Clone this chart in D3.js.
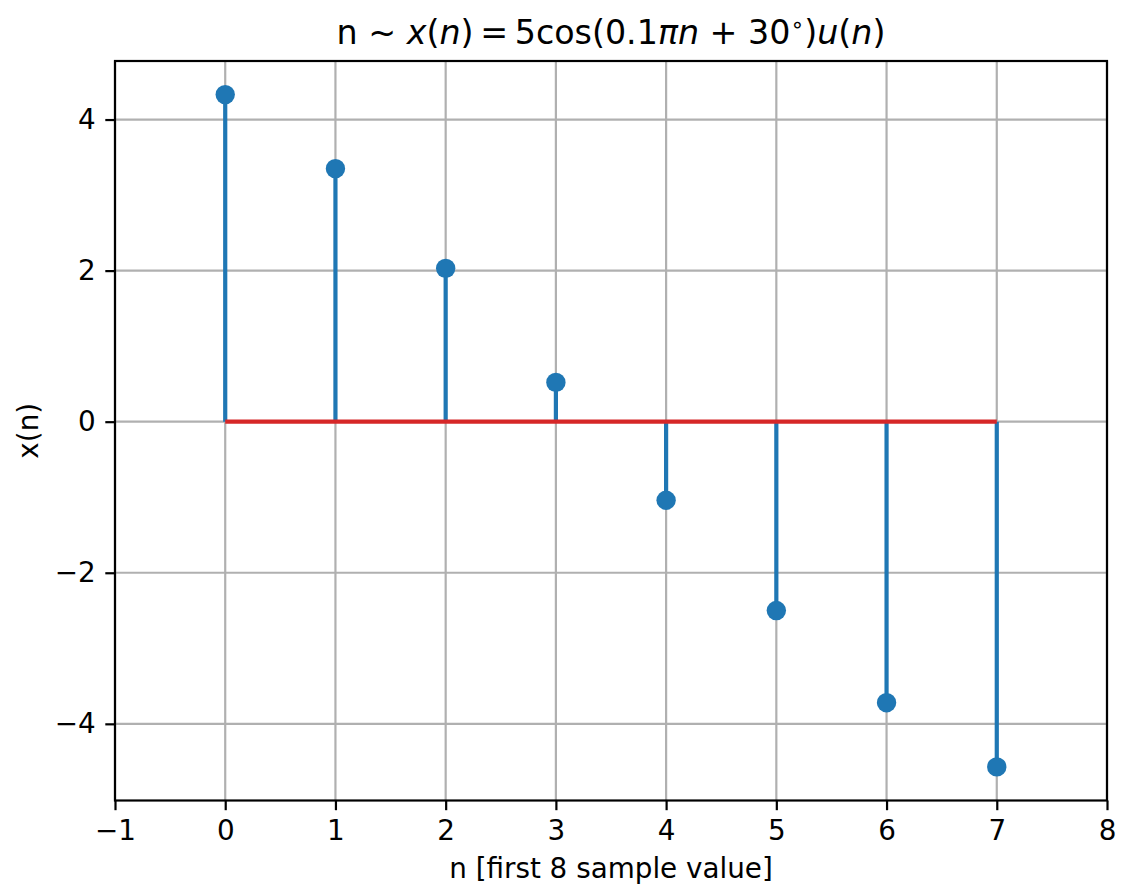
<!DOCTYPE html>
<html>
<head>
<meta charset="utf-8">
<script src="https://cdn.jsdelivr.net/npm/d3@7"></script>
<style>
    body { margin: 0; background: #fff; }
    svg { font-family: "DejaVu Sans", sans-serif; }
</style>
</head>
<body>
<svg id="chart" width="1122" height="887"></svg>
<script>
const samples = [0, 1, 2, 3, 4, 5, 6, 7]
const values = [4.33, 3.35, 2.03, 0.52, -1.04, -2.50, -3.72, -4.57]
const xTicks = [-1, 0, 1, 2, 3, 4, 5, 6, 7, 8]
const yTicks = [-4, -2, 0, 2, 4]

const svg = d3.select("#chart")

const box = {left: 115, right: 1107, top: 61, bottom: 800.5}
const tickLen = 9.7

//matplotlib style 5% margins around the data
const lo = d3.min(values), hi = d3.max(values)
const pad = (hi - lo) * 0.05

const x = d3.scaleLinear().domain([-1, 8]).range([box.left, box.right])
const y = d3.scaleLinear().domain([lo - pad, hi + pad]).range([box.bottom, box.top])

const fmt = d => d < 0 ? "\u2212" + Math.abs(d) : String(d)

// grid first, under everything
const grid = svg.append("g")
grid.selectAll(".gx").data(xTicks).join("line")
    .attr("x1", d => x(d)).attr("x2", d => x(d))
    .attr("y1", box.top).attr("y2", box.bottom)
    .attr("stroke", "#b0b0b0").attr("stroke-width", 2.2)
grid.selectAll(".gy").data(yTicks).join("line")
    .attr("x1", box.left).attr("x2", box.right)
    .attr("y1", d => y(d)).attr("y2", d => y(d))
    .attr("stroke", "#b0b0b0").attr("stroke-width", 2.2)

// stems
svg.append("g").selectAll("line").data(samples).join("line")
    .attr("x1", d => x(d)).attr("x2", d => x(d))
    .attr("y1", y(0)).attr("y2", (d, i) => y(values[i]))
    .attr("stroke", "#1f77b4").attr("stroke-width", 4.2)

// baseline on top of stems
svg.append("line")
    .attr("x1", x(samples[0])).attr("x2", x(samples[samples.length - 1]))
    .attr("y1", y(0)).attr("y2", y(0))
    .attr("stroke", "#d62728").attr("stroke-width", 4.2)

// markers
svg.append("g").selectAll("circle").data(samples).join("circle")
    .attr("cx", d => x(d)).attr("cy", (d, i) => y(values[i]))
    .attr("r", 9.7)
    .attr("fill", "#1f77b4")

// axes
const xAxis = svg.append("g")
    .attr("transform", `translate(0,${box.bottom})`)
    .call(d3.axisBottom(x).tickValues(xTicks).tickFormat(fmt).tickSize(tickLen).tickPadding(9.7))
const yAxis = svg.append("g")
    .attr("transform", `translate(${box.left},0)`)
    .call(d3.axisLeft(y).tickValues(yTicks).tickFormat(fmt).tickSize(tickLen).tickPadding(9.7))

for (const ax of [xAxis, yAxis]) {
    ax.select(".domain").remove()
    ax.selectAll(".tick line").attr("stroke", "#000").attr("stroke-width", 2.2)
    ax.selectAll(".tick text")
        .attr("font-family", "DejaVu Sans")
        .attr("font-size", 27.8)
        .attr("fill", "#000")
}

// frame
svg.append("rect")
    .attr("x", box.left).attr("y", box.top)
    .attr("width", box.right - box.left).attr("height", box.bottom - box.top)
    .attr("fill", "none").attr("stroke", "#000").attr("stroke-width", 2.2)

// title, mathtext-ish: [text, italic, superscript]
const title = svg.append("text")
    .attr("x", (box.left + box.right) / 2).attr("y", 44)
    .attr("text-anchor", "middle")
    .attr("font-size", 33.3)
    .attr("fill", "#000")
const parts = [
    ["n ~ ", false], ["x", true], ["(", false], ["n", true], [")\u2009=\u20095cos(0.1", false],
    ["πn", true], [" + 30", false], ["\u2218", false, true], [")", false],
    ["u", true], ["(", false], ["n", true], [")", false]
]
title.selectAll("tspan").data(parts).join("tspan")
    .text(d => d[0])
    .attr("font-style", d => d[1] ? "italic" : "normal")
    .attr("font-size", d => d[2] ? 22 : null)
    .attr("dy", (d, i) => d[2] ? -12 : (i > 0 && parts[i - 1][2] ? 12 : null))

svg.append("text")
    .attr("x", (box.left + box.right) / 2).attr("y", 878)
    .attr("text-anchor", "middle")
    .attr("font-size", 27.8)
    .text("n [first 8 sample value]")

svg.append("text")
    .attr("transform", `translate(38,${(box.top + box.bottom) / 2}) rotate(-90)`)
    .attr("text-anchor", "middle")
    .attr("font-size", 27.8)
    .text("x(n)")
</script>
</body>
</html>
